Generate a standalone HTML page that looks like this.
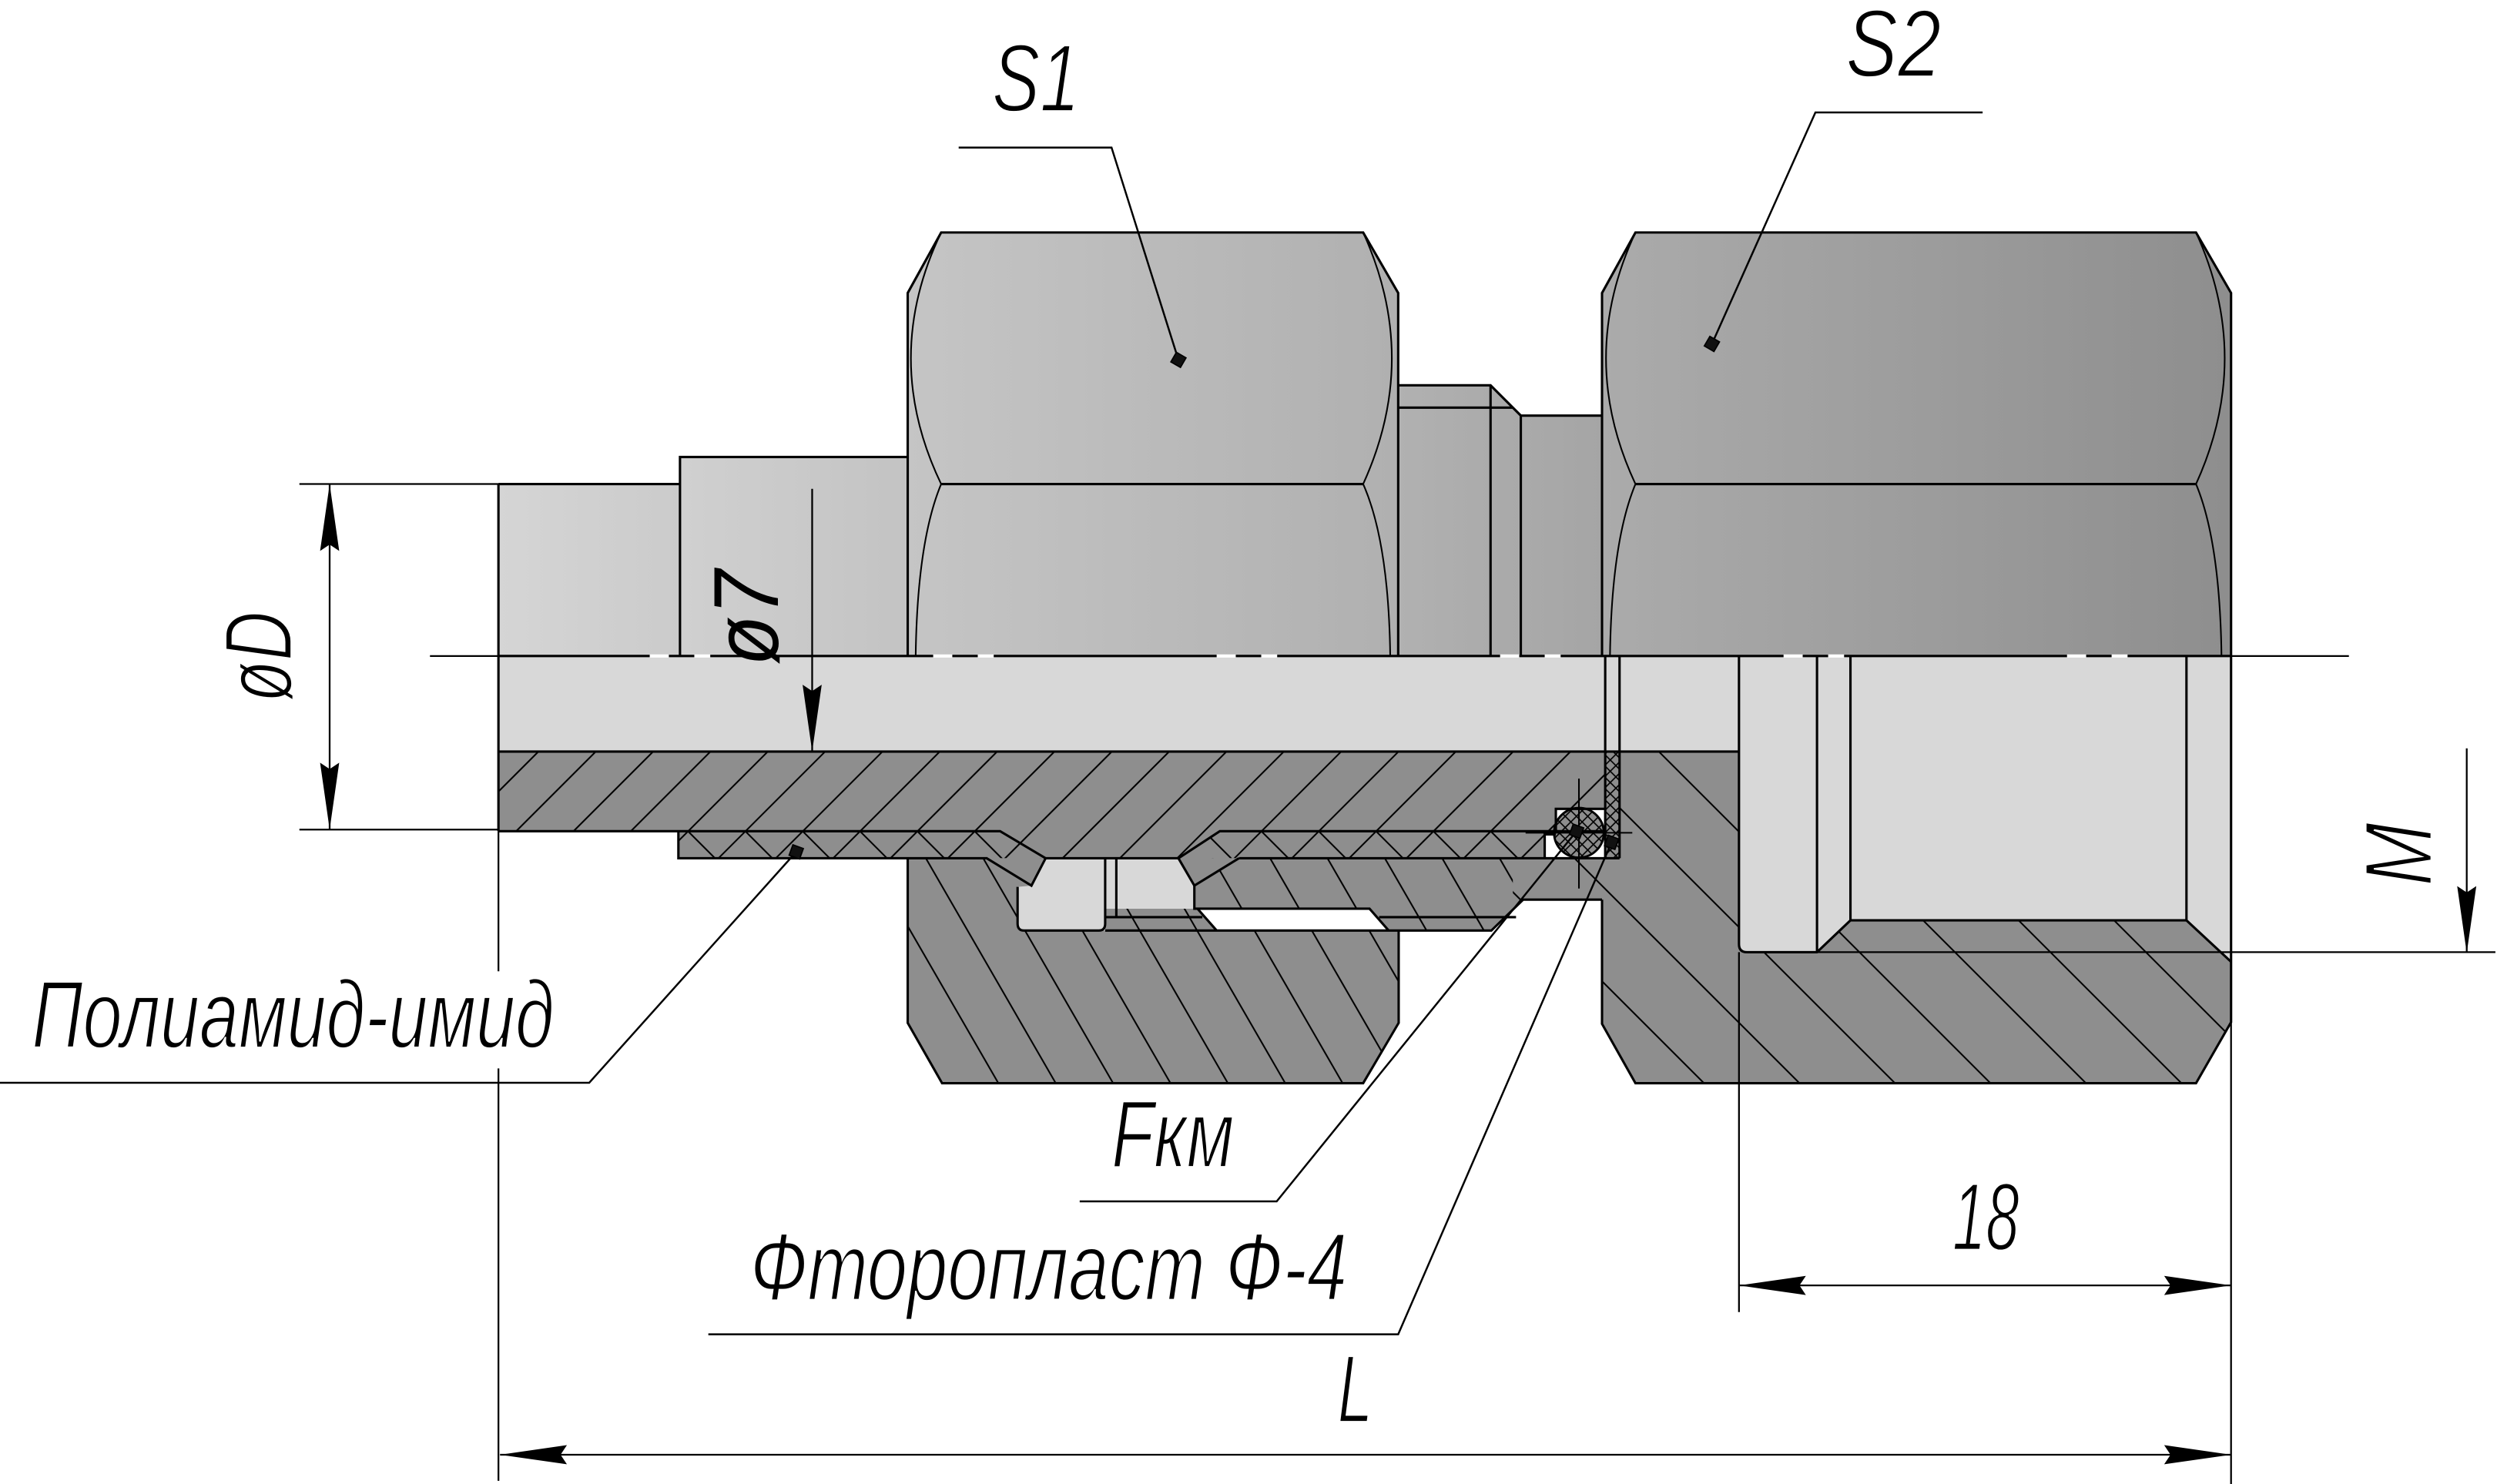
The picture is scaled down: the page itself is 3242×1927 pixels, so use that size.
<!DOCTYPE html>
<html><head><meta charset="utf-8">
<style>html,body{margin:0;padding:0;background:#fff;}svg{display:block}</style>
</head><body>
<svg xmlns="http://www.w3.org/2000/svg" width="3242" height="1927" viewBox="0 0 1568 932">
<defs>
<linearGradient id="gTube" gradientUnits="userSpaceOnUse" x1="313" y1="0" x2="427" y2="0"><stop offset="0" stop-color="#d5d5d5"/><stop offset="1" stop-color="#cbcbcb"/></linearGradient>
<linearGradient id="gFer" gradientUnits="userSpaceOnUse" x1="427" y1="0" x2="570" y2="0"><stop offset="0" stop-color="#d0d0d0"/><stop offset="1" stop-color="#c3c3c3"/></linearGradient>
<linearGradient id="gN1" gradientUnits="userSpaceOnUse" x1="570" y1="0" x2="878" y2="0"><stop offset="0" stop-color="#c5c5c5"/><stop offset="1" stop-color="#b0b0b0"/></linearGradient>
<linearGradient id="gCol" gradientUnits="userSpaceOnUse" x1="878" y1="0" x2="955" y2="0"><stop offset="0" stop-color="#b1b1b1"/><stop offset="1" stop-color="#a9a9a9"/></linearGradient>
<linearGradient id="gNeck" gradientUnits="userSpaceOnUse" x1="955" y1="0" x2="1006" y2="0"><stop offset="0" stop-color="#aaaaaa"/><stop offset="1" stop-color="#a5a5a5"/></linearGradient>
<linearGradient id="gN2" gradientUnits="userSpaceOnUse" x1="1006" y1="0" x2="1401" y2="0"><stop offset="0" stop-color="#ababab"/><stop offset="1" stop-color="#8e8e8e"/></linearGradient>
<pattern id="pT" patternUnits="userSpaceOnUse" width="25.46" height="40" patternTransform="rotate(45)"><line x1="12.73" y1="-2" x2="12.73" y2="42" stroke="#000" stroke-width="1"/></pattern>
<pattern id="pB" patternUnits="userSpaceOnUse" width="25.46" height="40" patternTransform="rotate(-45)"><line x1="12.73" y1="-2" x2="12.73" y2="42" stroke="#000" stroke-width="1"/></pattern>
<pattern id="pN1" patternUnits="userSpaceOnUse" width="31.2" height="40" patternTransform="rotate(-30)"><line x1="15.6" y1="-2" x2="15.6" y2="42" stroke="#000" stroke-width="1"/></pattern>
<pattern id="pN2" patternUnits="userSpaceOnUse" width="42.4" height="40" patternTransform="rotate(-45)"><line x1="21.2" y1="-2" x2="21.2" y2="42" stroke="#000" stroke-width="1"/></pattern>
<pattern id="pF1" patternUnits="userSpaceOnUse" width="5" height="10" patternTransform="rotate(45)"><line x1="2.5" y1="-1" x2="2.5" y2="11" stroke="#000" stroke-width="0.8"/></pattern>
<pattern id="pF2" patternUnits="userSpaceOnUse" width="5" height="10" patternTransform="rotate(-45)"><line x1="2.5" y1="-1" x2="2.5" y2="11" stroke="#000" stroke-width="0.8"/></pattern>
<path id="arr" d="M0,0 L-42,-6 L-38,0 L-42,6 Z" fill="#000"/>
</defs>

<!-- upper view fills -->
<rect x="313" y="304" width="114" height="108" fill="url(#gTube)"/>
<rect x="427" y="287" width="143" height="125" fill="url(#gFer)"/>
<polygon points="570,412 570,184 591,146 856,146 878,184 878,412" fill="url(#gN1)"/>
<polygon points="878,412 878,242 936,242 955,261 955,412" fill="url(#gCol)"/>
<rect x="955" y="261" width="51" height="151" fill="url(#gNeck)"/>
<polygon points="1006,412 1006,184 1027,146 1379,146 1401,184 1401,412" fill="url(#gN2)"/>

<!-- section dark fill -->
<polygon points="313,412 1401,412 1401,642 1379,680.3 1027,680.3 1006,643 1006,565 956.5,565 936.5,584.4 878,584.4 878,642.4 856,680.3 591.6,680.3 570,642.4 570,539 426,539 426,522 313,522" fill="#8e8e8e"/>

<!-- hatches -->
<polygon points="313,472 1008,472 1008,522 766,522 740,539 656.6,539 628,522 313,522" fill="url(#pT)"/>
<polygon points="426,522 628,522 656.6,539 426,539" fill="url(#pT)"/>
<polygon points="426,522 628,522 656.6,539 426,539" fill="url(#pB)"/>
<polygon points="766,522 970,522 970,539 740,539" fill="url(#pT)"/>
<polygon points="766,522 970,522 970,539 740,539" fill="url(#pB)"/>
<polygon points="570,539 950,539 950,571 936.5,584.4 878,584.4 878,642.4 856,680.3 591.6,680.3 570,642.4" fill="url(#pN1)"/>
<polygon points="1017,472 1092,472 1092,578 1401,578 1401,642 1379,680.3 1027,680.3 1006,643 1006,565 956.5,565 950,571 950,539 1017,539" fill="url(#pN2)"/>

<!-- voids -->
<rect x="313" y="412" width="779" height="60" fill="#d8d8d8"/>
<path d="M1092,412 H1401 V604 L1373,578 H1162 L1141,598 H1097 Q1092,598 1092,593 Z" fill="#d8d8d8"/>
<path d="M656.6,539 L694,539 L694,584.4 L643,584.4 Q639,584.4 639,580 L639,557 L647.7,556.2 Z" fill="#d8d8d8"/>
<path d="M694,539 L740,539 L750,556.2 L750,570.7 L694,570.7 Z" fill="#d8d8d8"/>
<path d="M752,570.7 L860,570.7 L872,584.4 L764,584.4 Z" fill="#fff"/>
<path d="M977,508 H1008 V539 H970 V524 H977 Z" fill="#fff"/>
<polygon points="619.6,539 647.7,556.2 656.6,539" fill="#8e8e8e"/>
<polygon points="740,539 750,556.2 778,539" fill="#8e8e8e"/>

<!-- washer & o-ring -->
<rect x="1008" y="472" width="9" height="67" fill="#8e8e8e"/>
<rect x="1008" y="472" width="9" height="67" fill="url(#pF1)"/>
<rect x="1008" y="472" width="9" height="67" fill="url(#pF2)"/>
<circle cx="991.5" cy="523" r="15.6" fill="#8e8e8e"/>
<circle cx="991.5" cy="523" r="15.6" fill="url(#pF1)"/>
<circle cx="991.5" cy="523" r="15.6" fill="url(#pF2)" stroke="#000" stroke-width="1.4"/>

<!-- outlines -->
<g fill="none" stroke="#000" stroke-width="1.5" stroke-linejoin="miter">
<path d="M313,304 H427 V412 M427,412 V287 H570"/>
<path d="M313,304 V522"/>
<path d="M570,412 V184 L591,146 H856 L878,184 V412 M591,304 H856"/>
<path d="M878,242 H936 L955,261 H1006 M878,256 H950 M936,242 V412 M955,261 V412"/>
<path d="M1006,412 V184 L1027,146 H1379 L1401,184 V642 L1379,680.3 H1027 L1006,643 V565 M1027,304 H1379"/>
<path d="M313,412 H1401"/>
<path d="M313,472 H1092"/>
<path d="M313,522 H628 L656.6,539 H740 L766,522 H1008"/>
<path d="M426,522 V539 H620 M778,539 H1017"/>
<path d="M619.6,539 L647.7,556.2 L656.6,539 M740,539 L750,556.2 L778,539"/>
<path d="M570,539 V642.4 L591.6,680.3 H856 L878.3,642.4 V584.4"/>
<path d="M639,557 V580 Q639,584.4 643,584.4 H690 Q694,584.4 694,580 V539 M701,539 V576"/>
<path d="M750,556.2 V570.7 H860 L872,584.4 M752,570.7 L764,584.4"/>
<path d="M694,576 H755 M866,576 H952"/>
<path d="M694,584.4 H936.5 L956.5,565 H1006"/>
<path d="M1092,412 V593 Q1092,598 1097,598 H1141 L1162,578 H1373 L1401,604 M1141,412 V598 M1162,412 V578 M1373,412 V578"/>
<path d="M1008,412 V539 M1017,412 V539"/>
<path d="M977,522 V508 H1008 M970,539 V524 H977"/>
</g>
<g fill="none" stroke="#000" stroke-width="1">
<path d="M591,146 Q553,225 591,304 M856,146 Q892,225 856,304 M591,304 Q576,340 575,412 M856,304 Q872,340 873,412"/>
<path d="M1027,146 Q990,225 1027,304 M1379,146 Q1415,225 1379,304 M1027,304 Q1012,340 1011,412 M1379,304 Q1394,340 1395,412"/>
<path d="M991.5,489 V558 M958,523 H1025"/>
</g>
<line x1="408" y1="412" x2="1401" y2="412" stroke="#fff" stroke-width="2" stroke-dasharray="12 16 10 140"/>

<!-- dimension / extension lines -->
<g fill="none" stroke="#000" stroke-width="1.1">
<path d="M270,412 H313 M1401,412 H1475"/>
<path d="M188,304 H313 M188,521 H313 M207,304 V521"/>
<path d="M510,307 V472"/>
<path d="M1549,470 V598.5 M1141,598 H1567"/>
<path d="M1092,598 V824 M1092,807.3 H1401"/>
<path d="M313,522 V610 M313,671 V930 M1401,642 V932 M314,913.6 H1401"/>
</g>
<use href="#arr" transform="translate(207,304) rotate(-90)"/>
<use href="#arr" transform="translate(207,521) rotate(90)"/>
<use href="#arr" transform="translate(510,472) rotate(90)"/>
<use href="#arr" transform="translate(1549,598.5) rotate(90)"/>
<use href="#arr" transform="translate(1092,807.3) rotate(180)"/>
<use href="#arr" transform="translate(1401,807.3)"/>
<use href="#arr" transform="translate(314,913.6) rotate(180)"/>
<use href="#arr" transform="translate(1401,913.6)"/>

<!-- leaders -->
<g fill="none" stroke="#000" stroke-width="1.2">
<path d="M602,92.7 H698 L740,226"/>
<path d="M1245,70.6 H1140 L1075,216"/>
<path d="M0,680 H370 L500,535"/>
<path d="M678,754.5 H801.7 L990,522"/>
<path d="M444.8,838 H878 L1012,529"/>
</g>
<g fill="#111" stroke="#000" stroke-width="0.8">
<rect x="-3.5" y="-3.5" width="7" height="7" transform="translate(740,226) rotate(30)"/>
<rect x="-3.5" y="-3.5" width="7" height="7" transform="translate(1075,216) rotate(30)"/>
<rect x="-3.5" y="-3.5" width="7" height="7" transform="translate(500,535) rotate(20)"/>
<rect x="-3.5" y="-3.5" width="7" height="7" transform="translate(990,522) rotate(20)"/>
<rect x="-3.5" y="-3.5" width="7" height="7" transform="translate(1012,529) rotate(20)"/>
</g>

<!-- texts -->
<g font-family="'Liberation Sans','DejaVu Sans',sans-serif" font-style="italic" font-size="60" fill="#000" stroke="#fff" stroke-width="1.3">
<text x="623" y="70" textLength="55" lengthAdjust="spacingAndGlyphs">S1</text>
<text x="1159" y="48" textLength="60" lengthAdjust="spacingAndGlyphs">S2</text>
<text x="20" y="658" textLength="328" lengthAdjust="spacingAndGlyphs">Полиамид-имид</text>
<text x="698" y="733" textLength="77" lengthAdjust="spacingAndGlyphs">Fкм</text>
<text x="471" y="816.5" textLength="375" lengthAdjust="spacingAndGlyphs">Фторопласт Ф-4</text>
<text x="1226" y="785" textLength="42" lengthAdjust="spacingAndGlyphs">18</text>
<text x="840" y="893" textLength="22" lengthAdjust="spacingAndGlyphs">L</text>
<text transform="translate(183,441) rotate(-90)" x="0" y="0" textLength="57" lengthAdjust="spacingAndGlyphs">øD</text>
<text transform="translate(1527,556.5) rotate(-90)" x="0" y="0" textLength="40" lengthAdjust="spacingAndGlyphs">M</text>
</g>
<g font-family="'Liberation Sans','DejaVu Sans',sans-serif" font-style="italic" font-size="58" fill="#000">
<text transform="translate(488.5,418) rotate(-90)" x="0" y="0" textLength="60" lengthAdjust="spacingAndGlyphs">ø7</text>
</g>
</svg>
</body></html>
